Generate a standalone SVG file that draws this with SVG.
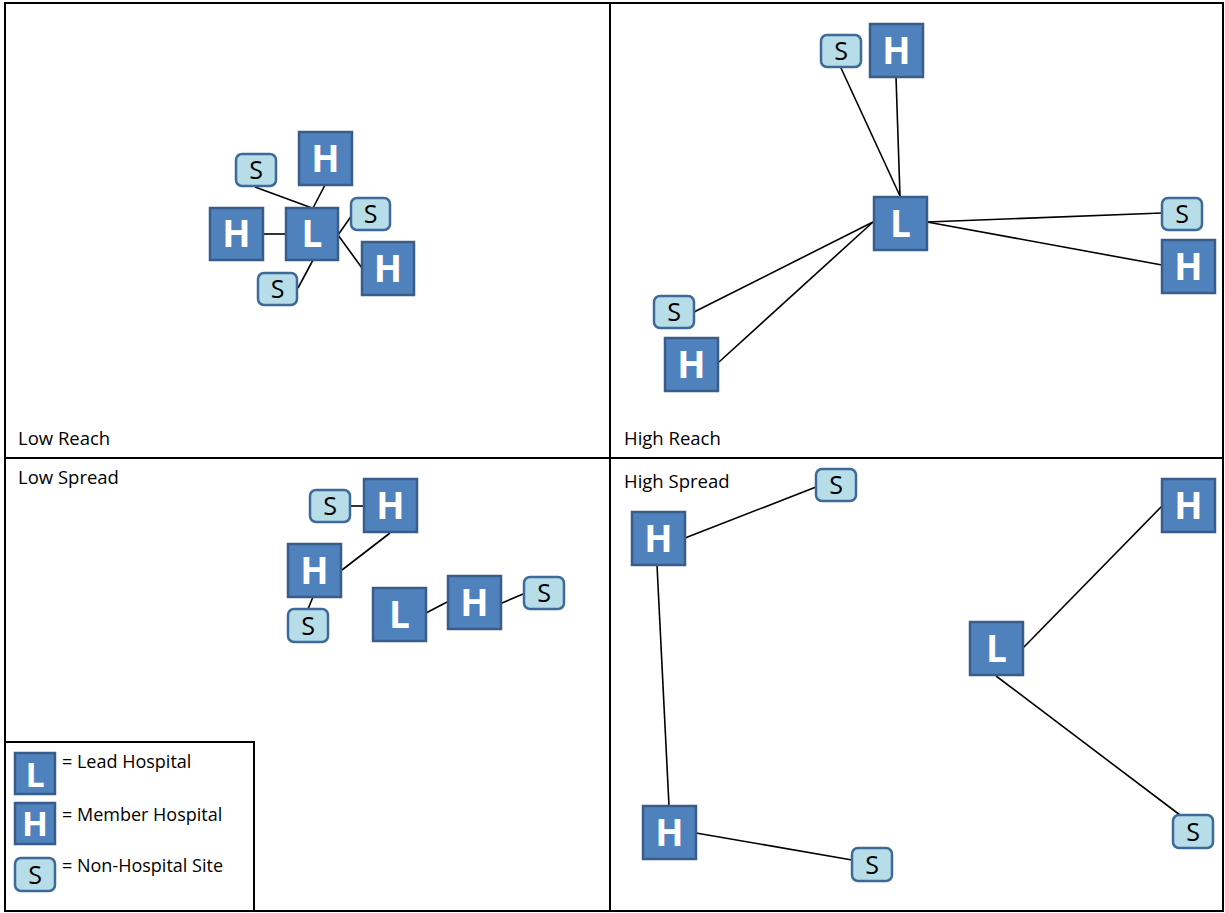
<svg xmlns="http://www.w3.org/2000/svg" width="1225" height="913" viewBox="0 0 1225 913">
<style>
.bg{fill:#fff}
.frame{fill:none;stroke:#000;stroke-width:2}
.n{fill:#4F81BD;stroke:#385D8A;stroke-width:2.5}
.s{fill:#B7DEE8;stroke:#3E6A9A;stroke-width:2.5}
.lt{font-family:"Open Sans","Noto Sans",sans-serif;font-weight:bold;font-size:37px;fill:#fff;text-anchor:middle}
.st{font-family:"Open Sans","Noto Sans",sans-serif;font-size:25px;fill:#000;text-anchor:middle}
.lab{font-family:"Open Sans","Noto Sans",sans-serif;font-size:18.5px;fill:#000}
.leg{font-family:"Open Sans","Noto Sans",sans-serif;font-size:18px;fill:#000}
.c line{stroke:#000;stroke-width:1.6}
</style>
<rect class="bg" x="0" y="0" width="1225" height="913"/>
<g id="frame">
<rect class="frame" x="5" y="3" width="1218" height="908"/>
<line class="frame" x1="610" y1="3" x2="610" y2="911"/>
<line class="frame" x1="5" y1="458" x2="1223" y2="458"/>
<rect class="frame" x="5" y="742" width="249" height="169"/>
</g>
<g id="labels">
<text class="lab" x="18" y="445">Low Reach</text>
<text class="lab" x="624" y="445">High Reach</text>
<text class="lab" x="18" y="484">Low Spread</text>
<text class="lab" x="624" y="488">High Spread</text>
</g>
<g class="c" id="connectors">
<line x1="255" y1="187" x2="312" y2="208"/>
<line x1="325" y1="185" x2="313" y2="208"/>
<line x1="263" y1="234" x2="285" y2="234"/>
<line x1="338" y1="235" x2="352" y2="215"/>
<line x1="338" y1="235" x2="362" y2="268"/>
<line x1="313" y1="260" x2="298" y2="288"/>
<line x1="841" y1="68" x2="900" y2="196"/>
<line x1="896" y1="77" x2="900" y2="196"/>
<line x1="927" y1="222" x2="1162" y2="213"/>
<line x1="927" y1="222" x2="1162" y2="265"/>
<line x1="873" y1="222" x2="694" y2="312"/>
<line x1="873" y1="222" x2="719" y2="362"/>
<line x1="350" y1="506" x2="363" y2="506"/>
<line x1="390" y1="533" x2="342" y2="570"/>
<line x1="313" y1="597" x2="308" y2="609"/>
<line x1="426" y1="613" x2="447" y2="602"/>
<line x1="502" y1="603" x2="523" y2="594"/>
<line x1="685" y1="538" x2="816" y2="487"/>
<line x1="657" y1="565" x2="669" y2="806"/>
<line x1="696" y1="833" x2="852" y2="860"/>
<line x1="1023" y1="648" x2="1162" y2="506"/>
<line x1="996" y1="676" x2="1180" y2="815"/>
</g>
<g id="lr-S1"><rect class="s" x="236" y="154" width="40" height="32" rx="6"/><text class="st" x="256" y="179">S</text></g>
<g id="lr-H1"><rect class="n" x="299" y="132" width="53" height="53"/><text class="lt" x="325.5" y="171.5">H</text></g>
<g id="lr-L"><rect class="n" x="286" y="208" width="52" height="52"/><text class="lt" x="312" y="247">L</text></g>
<g id="lr-H2"><rect class="n" x="210" y="208" width="53" height="52"/><text class="lt" x="236.5" y="247">H</text></g>
<g id="lr-S2"><rect class="s" x="351" y="198" width="39" height="32" rx="6"/><text class="st" x="370.5" y="223">S</text></g>
<g id="lr-H3"><rect class="n" x="362" y="242" width="52" height="53"/><text class="lt" x="388" y="281.5">H</text></g>
<g id="lr-S3"><rect class="s" x="258" y="273" width="39" height="32" rx="6"/><text class="st" x="277.5" y="298">S</text></g>
<g id="hr-S1"><rect class="s" x="821" y="35" width="40" height="32" rx="6"/><text class="st" x="841" y="60">S</text></g>
<g id="hr-H1"><rect class="n" x="870" y="24" width="53" height="53"/><text class="lt" x="896.5" y="63.5">H</text></g>
<g id="hr-L"><rect class="n" x="874" y="197" width="53" height="53"/><text class="lt" x="900.5" y="236.5">L</text></g>
<g id="hr-S2"><rect class="s" x="1162" y="198" width="40" height="32" rx="6"/><text class="st" x="1182" y="223">S</text></g>
<g id="hr-H2"><rect class="n" x="1162" y="240" width="53" height="53"/><text class="lt" x="1188.5" y="279.5">H</text></g>
<g id="hr-S3"><rect class="s" x="654" y="296" width="40" height="32" rx="6"/><text class="st" x="674" y="321">S</text></g>
<g id="hr-H3"><rect class="n" x="665" y="338" width="53" height="53"/><text class="lt" x="691.5" y="377.5">H</text></g>
<g id="ls-S1"><rect class="s" x="310" y="490" width="40" height="32" rx="6"/><text class="st" x="330" y="515">S</text></g>
<g id="ls-H1"><rect class="n" x="364" y="479" width="53" height="53"/><text class="lt" x="390.5" y="518.5">H</text></g>
<g id="ls-H2"><rect class="n" x="288" y="544" width="53" height="53"/><text class="lt" x="314.5" y="583.5">H</text></g>
<g id="ls-S2"><rect class="s" x="288" y="609" width="40" height="33" rx="6"/><text class="st" x="308" y="634.5">S</text></g>
<g id="ls-L"><rect class="n" x="373" y="588" width="53" height="53"/><text class="lt" x="399.5" y="627.5">L</text></g>
<g id="ls-H3"><rect class="n" x="448" y="576" width="53" height="53"/><text class="lt" x="474.5" y="615.5">H</text></g>
<g id="ls-S3"><rect class="s" x="524" y="577" width="40" height="32" rx="6"/><text class="st" x="544" y="602">S</text></g>
<g id="hs-S1"><rect class="s" x="816" y="469" width="40" height="32" rx="6"/><text class="st" x="836" y="494">S</text></g>
<g id="hs-H1"><rect class="n" x="632" y="512" width="53" height="53"/><text class="lt" x="658.5" y="551.5">H</text></g>
<g id="hs-H2"><rect class="n" x="643" y="806" width="53" height="53"/><text class="lt" x="669.5" y="845.5">H</text></g>
<g id="hs-S2"><rect class="s" x="852" y="848" width="40" height="33" rx="6"/><text class="st" x="872" y="873.5">S</text></g>
<g id="hs-H3"><rect class="n" x="1162" y="479" width="53" height="53"/><text class="lt" x="1188.5" y="518.5">H</text></g>
<g id="hs-L"><rect class="n" x="970" y="622" width="53" height="53"/><text class="lt" x="996.5" y="661.5">L</text></g>
<g id="hs-S3"><rect class="s" x="1173" y="815" width="40" height="33" rx="6"/><text class="st" x="1193" y="840.5">S</text></g>
<g id="legend-L"><rect class="n" x="15" y="753" width="40" height="41"/><text class="lt" x="35" y="787" style="font-size:34px">L</text><text class="leg" x="62" y="768">= Lead Hospital</text></g>
<g id="legend-H"><rect class="n" x="15" y="803" width="40" height="41"/><text class="lt" x="35" y="836" style="font-size:34px">H</text><text class="leg" x="62" y="821">= Member Hospital</text></g>
<g id="legend-S"><rect class="s" x="15" y="858" width="40" height="33" rx="6"/><text class="st" x="35" y="884">S</text><text class="leg" x="62" y="872">= Non-Hospital Site</text></g>
</svg>
